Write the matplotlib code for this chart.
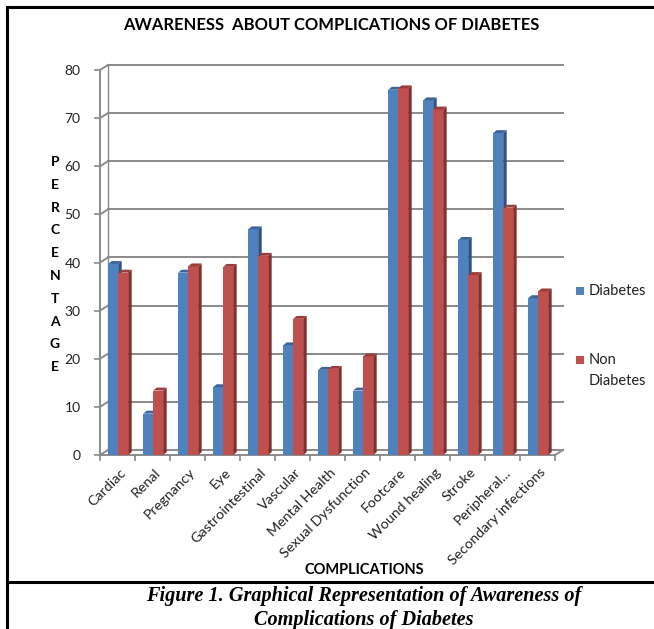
import matplotlib.pyplot as plt
from matplotlib.patches import Polygon, Rectangle
from matplotlib.lines import Line2D
from matplotlib.transforms import ScaledTranslation

categories = ['Cardiac', 'Renal', 'Pregnancy', 'Eye', 'Gastrointestinal', 'Vascular',
              'Mental Health', 'Sexual Dysfunction', 'Footcare', 'Wound healing',
              'Stroke', 'Peripheral...', 'Secondary infections']
diabetes = [39.7, 8.6, 37.9, 14.1, 46.9, 22.8, 17.7, 13.4, 75.9, 73.7, 44.7, 66.9, 32.6]
non_diabetes = [37.9, 13.4, 39.2, 39.1, 41.4, 28.3, 17.9, 20.5, 76.2, 71.8, 37.4, 51.4, 34.0]
yticks = [0, 10, 20, 30, 40, 50, 60, 70, 80]

W, H = 654, 629
fig = plt.figure(figsize=(W / 100, H / 100), dpi=100)
fig.patch.set_facecolor('white')

# plot area in pixels: x 100..555, y(0)=455, y(80)=70
ax = fig.add_axes([100 / W, 1 - 455 / H, 455 / W, 385 / H])
ax.set_xlim(-0.5, len(categories) - 0.5)
ax.set_ylim(0, 80)
for s in ax.spines.values():
    s.set_visible(False)

grid_c = '#8a8a8a'
DX, DY = 0.23, 1.05       # depth of the back wall
xl, xr = -0.5, len(categories) - 0.5

# back wall gridlines with the slanted left wall
for y in yticks:
    ax.plot([xl + DX, xr + DX], [y + DY, y + DY], color=grid_c, lw=1.4,
            clip_on=False, zorder=1)
    ax.plot([xl, xl + DX], [y, y + DY], color=grid_c, lw=1.4, clip_on=False, zorder=1)
ax.plot([xl + DX, xl + DX], [DY, 80 + DY], color=grid_c, lw=1.0, clip_on=False, zorder=1)
# floor front edge and right slant
ax.plot([xl, xr], [0, 0], color=grid_c, lw=1.4, clip_on=False, zorder=1)
ax.plot([xr, xr + DX], [0, DY], color=grid_c, lw=1.4, clip_on=False, zorder=1)
# left axis
ax.plot([xl, xl], [0, 80], color=grid_c, lw=1.4, clip_on=False, zorder=1)


def bar3d(x, v, w, front, side, top, z):
    bdx, bdy = 0.1, 0.6
    ax.bar(x, v, width=w, color=front, zorder=z, linewidth=0)
    x0, x1 = x - w / 2, x + w / 2
    ax.add_patch(Polygon([(x1, 0), (x1 + bdx, bdy), (x1 + bdx, v + bdy), (x1, v)],
                         closed=True, facecolor=side, lw=0, zorder=z))
    ax.add_patch(Polygon([(x0, v), (x0 + bdx, v + bdy), (x1 + bdx, v + bdy), (x1, v)],
                         closed=True, facecolor=top, lw=0, zorder=z))


bw = 0.285
for i in range(len(categories)):
    bar3d(i - bw / 2 + 0.02, diabetes[i], bw, '#4f81bd', '#2f5285', '#3b6499', 3)
    bar3d(i + bw / 2 + 0.02, non_diabetes[i], bw, '#c0504d', '#842f2d', '#9a3c3a', 4)

ax.set_yticks(yticks)
ax.tick_params(axis='y', length=4, width=1.2, color=grid_c, pad=10,
               labelsize=10, labelcolor='#222222')
ax.set_xticks(range(len(categories)))
ax.set_xticklabels(categories, rotation=45, ha='right', va='center',
                   rotation_mode='anchor', fontsize=10.3, color='#222222')
ax.tick_params(axis='x', which='major', length=0, pad=11)
ax.set_xticks([k - 0.5 for k in range(len(categories) + 1)], minor=True)
ax.tick_params(axis='x', which='minor', length=4, width=1.2, color=grid_c)
shift = ScaledTranslation(6 / 100, 0, fig.dpi_scale_trans)
for lab in ax.get_xticklabels():
    lab.set_transform(lab.get_transform() + shift)
for lab in ax.get_yticklabels() + ax.get_xticklabels():
    lab.set_fontfamily('Lato')

fig.text(331 / W, 1 - 25 / H, 'AWARENESS  ABOUT COMPLICATIONS OF DIABETES',
         ha='center', va='center', fontsize=11.9, fontweight='bold', family='Lato')

# vertical y label
for k, ch in enumerate('PERCENTAGE'):
    fig.text(55 / W, 1 - (162 + k * 22.8) / H, ch, ha='center', va='center',
             fontsize=10, fontweight='bold', family='Lato')

fig.text(364 / W, 1 - 570 / H, 'COMPLICATIONS', ha='center', va='center',
         fontsize=10.5, fontweight='bold', family='Lato')

# legend
fig.patches.append(Rectangle((576 / W, 1 - 295 / H), 8 / W, 8 / H, facecolor='#4f81bd',
                             transform=fig.transFigure, figure=fig))
fig.text(589 / W, 1 - 291 / H, 'Diabetes', ha='left', va='center', fontsize=10.5,
         family='Lato', color='#222222')
fig.patches.append(Rectangle((576 / W, 1 - 364 / H), 8 / W, 8 / H, facecolor='#c0504d',
                             transform=fig.transFigure, figure=fig))
fig.text(589 / W, 1 - 360 / H, 'Non', ha='left', va='center', fontsize=10.5,
         family='Lato', color='#222222')
fig.text(589 / W, 1 - 381 / H, 'Diabetes', ha='left', va='center', fontsize=10.5,
         family='Lato', color='#222222')

# caption
fig.text(364 / W, 1 - 596 / H, 'Figure 1. Graphical Representation of Awareness of',
         ha='center', va='center', fontsize=14.6, fontweight='bold', style='italic',
         family='Liberation Serif')
fig.text(364 / W, 1 - 620 / H, 'Complications of Diabetes',
         ha='center', va='center', fontsize=14.6, fontweight='bold', style='italic',
         family='Liberation Serif')

# frame lines
for xs, ys in [([7, 7], [7, H]), ([7, W], [7, 7]), ([7, W], [582, 582])]:
    fig.lines.append(Line2D([x / W for x in xs], [1 - y / H for y in ys], color='black',
                            lw=2.2, transform=fig.transFigure, figure=fig))

fig.savefig('out.png', dpi=100)
